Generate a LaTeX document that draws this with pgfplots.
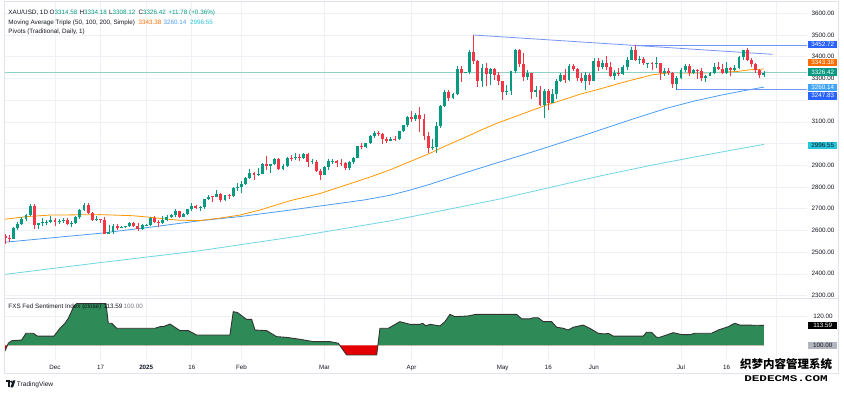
\documentclass[border=0pt]{standalone}
\usepackage{pgfplots}
\pgfplotsset{compat=1.18}
\usepackage{pgfplotstable}
\usepackage{graphicx}
\usepackage{fontspec}
\setmainfont{Liberation Sans}
\newfontfamily\cjk{Noto Sans CJK SC}
\newfontfamily\monof{Liberation Mono}
\definecolor{upc}{HTML}{089981}
\definecolor{dnc}{HTML}{F23645}
\definecolor{ma50}{HTML}{FF9800}
\definecolor{ma100}{HTML}{4A9DF2}
\definecolor{ma200}{HTML}{6FD6E6}
\definecolor{trend}{HTML}{7596F8}
\definecolor{gridc}{HTML}{EEF1F6}
\definecolor{txt}{HTML}{131722}
\definecolor{fxg}{HTML}{2E8B57}
\definecolor{fxr}{HTML}{E50000}
\definecolor{framec}{HTML}{E0E3EB}
\definecolor{bxblue}{HTML}{2962FF}
\definecolor{bxlblue}{HTML}{42A5F5}
\definecolor{bxorange}{HTML}{FF6D00}
\definecolor{bxcyan}{HTML}{26C6DA}
\definecolor{bxgray}{HTML}{B2B5BE}
\definecolor{lblgray}{HTML}{787B86}
\newcommand{\tv}{\fontsize{6.3}{7.5}\selectfont}
\newcommand{\plab}[2]{\node[font=\tv, text=txt, anchor=base] at (823pt,#1pt-2.2pt) {#2};}
\newcommand{\pbox}[4]{\node[fill=#2, text=#3, font=\tv, minimum width=29pt, minimum height=7.5pt, inner sep=0pt, anchor=west] at (808pt,#1pt) {#4};}

\pgfplotstableread{
i O H L C
-10 2563 2617 2560 2612
-9 2612 2639 2603 2631
-8 2631 2660 2623 2651
-7 2651 2674 2644 2670
-6 2670 2721 2665 2715
-4 2625 2636 2605 2633
-3 2633 2657 2621 2638
-2 2638 2646 2626 2640
-1 2640 2665 2633 2650
1 2640 2653 2630 2643
2 2643 2658 2633 2650
4 2632 2645 2614 2633
5 2633 2668 2631 2660
6 2660 2697 2655 2694
7 2694 2726 2690 2718
10 2648 2665 2643 2652
13 2586 2625 2583 2594
14 2594 2632 2584 2622
16 2612 2622 2610 2617
17 2617 2622 2612 2620
18 2620 2638 2615 2634
21 2606 2628 2603 2624
22 2624 2628 2620 2625
23 2625 2663 2620 2658
26 2636 2665 2630 2649
27 2649 2671 2642 2662
28 2662 2677 2656 2670
29 2670 2697 2660 2690
31 2663 2680 2660 2677
32 2677 2700 2670 2697
33 2697 2725 2690 2714
35 2703 2712 2690 2708
36 2708 2746 2700 2745
37 2745 2763 2740 2755
39 2754 2786 2752 2770
41 2740 2765 2735 2763
43 2760 2800 2755 2794
44 2794 2817 2780 2798
45 2798 2830 2772 2815
46 2815 2845 2810 2842
47 2842 2882 2838 2866
49 2856 2886 2853 2861
50 2861 2911 2860 2908
52 2898 2908 2864 2904
53 2904 2935 2900 2928
55 2883 2905 2880 2898
56 2898 2938 2890 2935
58 2933 2955 2925 2939
60 2936 2956 2930 2951
62 2915 2930 2905 2916
65 2857 2895 2857 2893
66 2893 2928 2880 2918
67 2918 2930 2906 2920
71 2889 2921 2880 2916
72 2916 2940 2906 2934
73 2934 2990 2932 2989
75 2984 3002 2982 3001
76 3001 3038 3000 3035
77 3035 3057 3028 3048
81 3011 3030 3010 3020
83 3019 3060 3015 3057
84 3057 3087 3055 3085
85 3085 3128 3076 3124
87 3114 3139 3105 3134
91 2982 3020 2970 2983
92 2983 3100 2957 3082
93 3082 3177 3070 3175
94 3175 3245 3170 3237
96 3211 3231 3205 3230
97 3230 3358 3225 3343
99 3327 3330 3324 3328
100 3328 3430 3320 3424
103 3288 3367 3260 3349
105 3319 3350 3268 3343
109 3239 3269 3222 3241
110 3241 3336 3225 3334
111 3334 3437 3325 3431
114 3306 3340 3291 3325
116 3236 3265 3216 3249
118 3178 3252 3120 3240
120 3188 3250 3185 3230
121 3230 3296 3205 3289
122 3289 3325 3285 3314
124 3295 3366 3287 3357
128 3289 3330 3245 3318
130 3289 3392 3288 3381
132 3353 3385 3344 3372
135 3310 3340 3293 3325
137 3322 3360 3318 3355
138 3355 3398 3340 3386
139 3386 3446 3386 3432
141 3384 3403 3367 3388
143 3369 3373 3347 3370
145 3368 3398 3347 3369
147 3323 3346 3312 3332
150 3274 3310 3247.83 3303
151 3303 3350 3297 3338
152 3338 3365 3330 3357
154 3326 3345 3322 3337
157 3301 3318 3283 3313
158 3313 3330 3310 3324
159 3324 3369 3322 3355
162 3324 3377 3319 3347
164 3339 3361 3332 3350
165 3350 3402 3345 3397
166 3397 3433 3383 3431
171 3314.58 3334.18 3308.12 3326.42
}\up

\pgfplotstableread{
i O H L C
-12 2573 2583 2537 2565
-11 2565 2579 2548 2563
-5 2712 2721 2605 2625
0 2650 2656 2622 2640
3 2650 2656 2625 2632
8 2718 2726 2675 2680
9 2680 2685 2643 2648
11 2652 2655 2636 2646
12 2646 2664 2583 2586
15 2622 2630 2603 2612
19 2634 2637 2616 2621
20 2621 2634 2597 2606
24 2658 2665 2635 2640
25 2640 2650 2615 2636
30 2690 2692 2656 2663
34 2714 2716 2697 2703
38 2755 2759 2733 2754
40 2770 2773 2730 2740
42 2763 2770 2745 2760
48 2866 2870 2834 2856
51 2908 2942 2880 2898
54 2928 2932 2877 2883
57 2935 2947 2920 2933
59 2939 2954 2918 2936
61 2951 2956 2890 2915
63 2916 2923 2870 2876
64 2876 2882 2832 2857
68 2920 2925 2894 2911
69 2911 2930 2898 2910
70 2910 2915 2880 2889
74 2989 3005 2976 2984
78 3048 3058 3035 3044
79 3044 3048 2999 3023
80 3023 3030 3002 3011
82 3020 3033 3010 3019
86 3124 3149 3100 3114
88 3134 3168 3054 3114
89 3114 3136 3015 3037
90 3037 3055 2956 2982
95 3237 3245 3194 3211
98 3343 3357 3283 3327
101 3424 3500 3367 3381
102 3381 3386 3260 3288
104 3349 3371 3265 3319
106 3343 3347 3295 3317
107 3317 3328 3268 3288
108 3288 3290 3202 3239
112 3431 3435 3355 3366
113 3366 3415 3287 3306
115 3325 3327 3207 3236
117 3249 3265 3171 3178
119 3240 3252 3154 3188
123 3314 3345 3278 3295
125 3357 3365 3332 3342
126 3342 3350 3286 3300
127 3300 3325 3280 3289
129 3318 3326 3270 3289
131 3381 3392 3334 3353
133 3372 3403 3339 3352
134 3352 3375 3306 3310
136 3325 3349 3312 3322
140 3432 3452.72 3382 3384
142 3388 3398 3362 3369
144 3370 3374 3340 3368
146 3369 3370 3295 3323
148 3332 3350 3318 3327
149 3327 3329 3256 3274
153 3357 3366 3311 3326
155 3337 3343 3296 3336
156 3336 3346 3288 3301
160 3355 3375 3340 3344
161 3344 3366 3320 3324
163 3347 3352 3310 3339
167 3431 3438 3381 3387
168 3387 3394 3351 3368
169 3368 3373 3325 3337
170 3337 3345 3301 3314
}\down

\pgfplotstableread{
i v
-12.06 2652
-6.8 2664
-1.2 2671
10.85 2673
18.8 2668
22.9 2661
27 2652
30.2 2647
35 2646
39.8 2657
44.6 2671
49.4 2694
56.7 2737
63.9 2770
68.7 2800
76 2846
80.8 2879
85.6 2917
90.4 2955
94.5 2992
98.5 3025
102.5 3060
106.5 3093
110.5 3121
114.6 3150
118.6 3178
122.6 3202
126.6 3227
131.5 3252
136.3 3278
139.4 3294
144.2 3317
148.3 3326
156.3 3325
164.5 3332
167.6 3340
171 3343.38
}\maA

\pgfplotstableread{
i v
-12.06 2546
10.85 2587
22.9 2615
35 2645
44.6 2664
56.7 2694
68.7 2725
74.7 2741
80.8 2762
86 2788
90.5 2813
95.3 2843
100 2872
106 2908
112.9 2948
119.8 2990
126.6 3032
131.5 3063
139.5 3114
147.6 3163
154 3195
160.4 3222
166 3243
171 3260.14
}\maB

\pgfplotstableread{
i v
-12.06 2398
10.85 2452
35 2507
59.1 2575
80.8 2644
94 2694
107.3 2745
119.4 2798
131.5 2851
143.5 2899
155.6 2943
163.3 2970
171 2996.55
}\maC

\pgfplotstableread{
i v
-12.06 96.1
-11.47 100
-11.26 101.4
-10.45 103.1
-8.04 103.6
-7.0 108.2
-5.23 108.2
-4.26 106.3
-0.24 106.3
1.21 111.6
2.41 115.0
3.22 118.4
4.58 126.8
5.22 128.4
12.3 128.4
12.86 115
13.67 115
14.87 111.6
24.12 111.6
25.33 112.7
26.13 112.7
27.74 114.5
30.15 110
32.16 110
34.17 107
42.2 107
43.0 122.9
43.97 122.4
46.2 117.7
47.44 117.7
48.24 110.4
51.06 110
53.47 105.9
55.88 105.4
59.09 104.1
62.3 102.5
66.33 102.5
68.33 101.4
68.68 100
70.35 93.4
77.6 93.4
77.89 100
78.39 111.6
80.4 111.6
83.2 116.1
85.63 114.3
88.04 114.3
88.69 115
89.48 113.2
90.45 114.3
92.86 113.2
94.07 116.1
95.27 121.1
96.48 119.5
99.69 120
101.54 121.1
111.36 121.1
112.57 118
114.57 118
115.37 118.8
116.57 118.8
117.78 116.1
119.8 116.1
121.0 112.3
122.6 111.6
123.8 110.4
125.0 112.3
127.4 113.8
129.0 111.6
131.0 108.2
132.66 107.7
133.45 108.2
134.66 106.3
141.9 106.3
142.7 108.9
143.9 108.9
145.1 105.5
145.9 105.5
147.5 107
149.1 108.6
151.2 107.3
153.2 107.3
154.4 108.2
158.4 108.2
160.0 110.4
162.4 112.7
164.0 115
165.2 113.8
171 113.59
}\sent

\begin{document}
\begin{tikzpicture}
\useasboundingbox (0,0) rectangle (844pt,393pt);
\fill[white] (0,0) rectangle (844pt,393pt);

% ---------- price pane ----------
\begin{axis}[
  at={(5pt,96pt)}, anchor=south west, scale only axis,
  width=802pt, height=295pt,
  xmin=-12.06, xmax=181.4, ymin=2293.8, ymax=3652,
  axis line style={draw=none}, tick style={draw=none},
  xtick={0,11,22,33,45,65,86,108,119,130,151,162,174},
  ytick={2300,2400,...,3600},
  xticklabels={}, yticklabels={},
  grid=major, grid style={gridc, line width=0.6pt},
]
\addplot[ma200, line width=0.8pt, forget plot] table[x=i,y=v] {\maC};
\addplot[ma100, line width=0.8pt, forget plot] table[x=i,y=v] {\maB};
\addplot[ma50, line width=0.8pt, forget plot] table[x=i,y=v] {\maA};
\addplot[upc!45, line width=0.5pt, forget plot] coordinates {(-12.06,3326.42) (181.4,3326.42)};
\addplot[trend, line width=0.8pt, forget plot] coordinates {(101,3500) (173.1,3411)};
\addplot[trend, line width=0.8pt, forget plot] coordinates {(140,3452.72) (181.4,3452.72)};
\addplot[trend, line width=0.8pt, forget plot] coordinates {(150,3247.83) (181.4,3247.83)};
% wicks
\addplot[draw=none, mark=none, forget plot, error bars/.cd, y dir=plus, y explicit, error mark=none,
  error bar style={draw=upc, line width=0.75pt}]
  table[x=i, y=L, y error plus expr={\thisrow{H}-\thisrow{L}}] {\up};
\addplot[draw=none, mark=none, forget plot, error bars/.cd, y dir=plus, y explicit, error mark=none,
  error bar style={draw=dnc, line width=0.75pt}]
  table[x=i, y=L, y error plus expr={\thisrow{H}-\thisrow{L}}] {\down};
% bodies
\addplot[draw=none, mark=none, forget plot, error bars/.cd, y dir=plus, y explicit, error mark=none,
  error bar style={draw=upc, line width=2.9pt}]
  table[x=i, y=O, y error plus expr={max(\thisrow{C}-\thisrow{O},3)}] {\up};
\addplot[draw=none, mark=none, forget plot, error bars/.cd, y dir=plus, y explicit, error mark=none,
  error bar style={draw=dnc, line width=2.9pt}]
  table[x=i, y=C, y error plus expr={max(\thisrow{O}-\thisrow{C},3)}] {\down};
\end{axis}

% ---------- sentiment pane ----------
\begin{axis}[
  at={(5pt,33pt)}, anchor=south west, scale only axis,
  width=802pt, height=61.5pt,
  xmin=-12.06, xmax=181.4, ymin=89.98, ymax=131.9,
  axis line style={draw=none}, tick style={draw=none},
  xtick={0,11,22,33,45,65,86,108,119,130,151,162,174},
  xticklabels={Dec,17,\textbf{2025},16,Feb,Mar,Apr,May,16,Jun,Jul,16,{}},
  xticklabel style={font=\fontsize{6.2}{7}\selectfont, text=txt, anchor=base, yshift=-9.5pt},
  ytick={120}, yticklabels={},
  grid=major, grid style={gridc, line width=0.6pt},
]
\addplot[fill=fxg, draw=none, forget plot] table[x=i, y expr={max(\thisrow{v},100)}] {\sent}
  -- (axis cs:171,100) -- (axis cs:-12.06,100) -- cycle;
\addplot[fill=fxr, draw=none, forget plot] table[x=i, y expr={min(\thisrow{v},100)}] {\sent}
  -- (axis cs:171,100) -- (axis cs:-12.06,100) -- cycle;
\addplot[black!80, line width=0.9pt, forget plot] table[x=i,y=v] {\sent};
\end{axis}

% frame and separators
\draw[framec, line width=0.6pt] (4.5pt,19.5pt) rectangle (838.5pt,391.5pt);
\draw[framec, line width=0.6pt] (4.5pt,95pt) -- (838.5pt,95pt);

% legend texts (top left)
\node[font=\tv, text=txt, anchor=base west, inner sep=0pt] at (8.3pt,378.3pt) {XAU/USD, 1D};
\node[font=\tv, anchor=base west, inner sep=0pt] at (49.5pt,378.3pt) {\textcolor{txt}{O}\textcolor{upc}{3314.58}};
\node[font=\tv, anchor=base west, inner sep=0pt] at (79.3pt,378.3pt) {\textcolor{txt}{H}\textcolor{upc}{3334.18}};
\node[font=\tv, anchor=base west, inner sep=0pt] at (109pt,378.3pt) {\textcolor{txt}{L}\textcolor{upc}{3308.12}};
\node[font=\tv, anchor=base west, inner sep=0pt] at (138.3pt,378.3pt) {\textcolor{txt}{C}\textcolor{upc}{3326.42}};
\node[font=\tv, text=upc, anchor=base west, inner sep=0pt] at (168.3pt,378.3pt) {+11.78 (+0.36\%)};
\node[font=\tv, text=txt, anchor=base west, inner sep=0pt] at (8.3pt,368.5pt) {Moving Average Triple (50, 100, 200, Simple)};
\node[font=\tv, text=bxorange, anchor=base west, inner sep=0pt] at (138.3pt,368.5pt) {3343.38};
\node[font=\tv, text=ma100, anchor=base west, inner sep=0pt] at (163.3pt,368.5pt) {3260.14};
\node[font=\tv, text=bxcyan, anchor=base west, inner sep=0pt] at (190pt,368.5pt) {2996.55};
\node[font=\tv, text=txt, anchor=base west, inner sep=0pt] at (8.3pt,359pt) {Pivots (Traditional, Daily, 1)};

% sentiment legend
\node[font=\tv, text=txt, anchor=base west, inner sep=0pt] at (8.3pt,84pt) {FXS Fed Sentiment Index (close)};
\node[font=\tv, text=txt, anchor=base west, inner sep=0pt] at (103.5pt,84pt) {113.59};
\node[font=\tv, text=lblgray, anchor=base west, inner sep=0pt] at (123.3pt,84pt) {100.00};

% price scale
\plab{379.7}{3600.00}
\plab{358.0}{3500.00}
\plab{336.3}{3400.00}
\plab{314.6}{3300.00}
\plab{271.2}{3100.00}
\plab{227.7}{2900.00}
\plab{206.0}{2800.00}
\plab{184.3}{2700.00}
\plab{162.6}{2600.00}
\plab{140.9}{2500.00}
\plab{119.2}{2400.00}
\plab{97.3}{2300.00}
\plab{77.0}{120.00}
\pbox{348.7}{bxblue}{white}{3452.72}
\pbox{330.3}{bxorange}{white}{3343.38}
\pbox{320.8}{upc}{white}{3326.42}
\pbox{305.3}{bxlblue}{white}{3260.14}
\pbox{297.2}{bxblue}{white}{3247.83}
\pbox{247.3}{bxcyan}{txt}{2996.55}
\pbox{67.6}{black}{white}{113.59}
\pbox{47.7}{bxgray}{txt}{100.00}

% TradingView logo
\fill[txt] (5.5pt,10.5pt) rectangle (9.6pt,12.5pt);
\fill[txt] (7.6pt,5.5pt) rectangle (9.6pt,12.5pt);
\fill[txt] (11.2pt,11.3pt) circle (1.2pt);
\fill[txt] (12.8pt,12.5pt) -- (15.4pt,12.5pt) -- (13.0pt,5.5pt) -- (10.4pt,5.5pt) -- cycle;
\node[font=\fontsize{6.6}{7.5}\selectfont, text=txt, anchor=base west, inner sep=0pt] at (16.7pt,6pt) {TradingView};

% watermark
\node[font=\cjk\bfseries\fontsize{11.5}{12}\selectfont, text=black, inner sep=0pt] at (786pt,28.5pt) {织梦内容管理系统};
\node[font=\monof\bfseries\fontsize{11}{11}\selectfont, text=black, inner sep=0pt] at (786pt,14.5pt) {\scalebox{1.15}[0.8]{DEDECMS.COM}};
\end{tikzpicture}
\end{document}
